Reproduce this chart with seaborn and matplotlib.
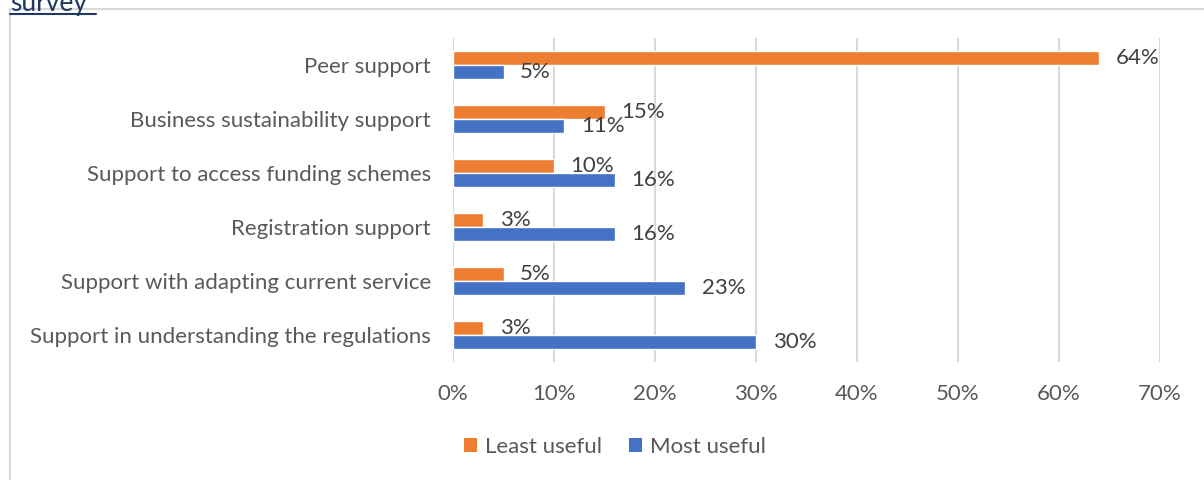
import matplotlib
matplotlib.use("Agg")
import matplotlib.pyplot as plt
from matplotlib.lines import Line2D
from matplotlib.patches import Patch
import pandas as pd
import seaborn as sns

# Survey results: share of respondents rating each support type
categories = [
    "Peer support",
    "Business sustainability support",
    "Support to access funding schemes",
    "Registration support",
    "Support with adapting current service",
    "Support in understanding the regulations",
]
least_useful = [0.64, 0.15, 0.10, 0.03, 0.05, 0.03]
most_useful = [0.05, 0.11, 0.16, 0.16, 0.23, 0.30]
series_names = ["Least useful", "Most useful"]
x_ticks = [0.0, 0.1, 0.2, 0.3, 0.4, 0.5, 0.6, 0.7]

colors = {"Least useful": "#ED7D31", "Most useful": "#4472C4"}

df = pd.DataFrame({
    "category": categories * 2,
    "series": [series_names[0]] * len(categories) + [series_names[1]] * len(categories),
    "value": least_useful + most_useful,
})

sns.set_theme(style="white")
plt.rcParams["font.family"] = ["Lato", "DejaVu Sans"]
FS = 16

fig = plt.figure(figsize=(12.04, 4.8), dpi=100)
ax = fig.add_axes([453 / 1204, 1 - 362 / 480, (1160 - 453) / 1204, 324 / 480])

sns.barplot(
    data=df, y="category", x="value", hue="series",
    order=categories, hue_order=series_names, palette=colors,
    orient="h", width=0.53, saturation=1, ax=ax, legend=False,
)

for container, name in zip(ax.containers, series_names):
    vals = least_useful if name == "Least useful" else most_useful
    ax.bar_label(container, labels=[f"{v:.0%}" for v in vals], padding=12,
                 fontsize=FS, color="#404040")

ax.set_xlim(0, 0.7)
ax.set_xticks(x_ticks)
ax.set_xticklabels([f"{t:.0%}" for t in x_ticks])
ax.grid(axis="x", color="#d9d9d9", linewidth=1.5)
ax.grid(axis="y", visible=False)
ax.set_axisbelow(True)
for s in ax.spines.values():
    s.set_visible(False)
ax.set_xlabel("")
ax.set_ylabel("")
ax.tick_params(axis="x", length=0, pad=16, labelsize=FS, labelcolor="#595959")
ax.tick_params(axis="y", length=0, pad=16, labelsize=FS, labelcolor="#595959")

handles = [Patch(facecolor=colors[n], edgecolor="none", label=n) for n in series_names]
leg = fig.legend(handles=handles, loc="center", bbox_to_anchor=(615 / 1204, 1 - 447 / 480),
                 ncol=2, frameon=False, fontsize=FS, handlelength=0.6, handleheight=0.6,
                 handletextpad=0.35, columnspacing=1.2)
for t in leg.get_texts():
    t.set_color("#595959")

# Chart frame
fig.add_artist(Line2D([10 / 1204, 1.0], [1 - 9 / 480, 1 - 9 / 480], color="#d9d9d9",
                      linewidth=1.6, transform=fig.transFigure))
fig.add_artist(Line2D([10 / 1204, 10 / 1204], [1 - 9 / 480, 0.0], color="#d9d9d9",
                      linewidth=1.6, transform=fig.transFigure))

# Heading text above the chart
fig.text(10 / 1204, 1 - 11 / 480, "survey", fontsize=19, color="#1F3864", ha="left", va="baseline")
fig.add_artist(Line2D([10 / 1204, 96 / 1204], [1 - 14 / 480, 1 - 14 / 480], color="#1F3864",
                      linewidth=1.5, transform=fig.transFigure))

fig.savefig("out.png", dpi=100)
